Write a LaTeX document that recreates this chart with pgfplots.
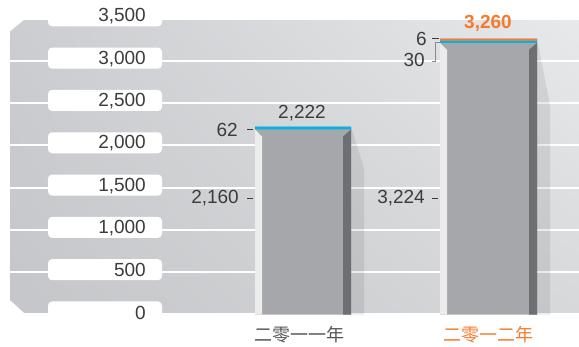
\documentclass[border=0pt]{standalone}
\usepackage{pgfplots}
\pgfplotsset{compat=1.18}
\usetikzlibrary{shadings}
\usepackage{fontspec}
\setmainfont{Liberation Sans}
\newfontfamily\cjk{Noto Sans CJK SC}

\definecolor{panelUL}{HTML}{CBCDD0}
\definecolor{panelUR}{HTML}{E8E9EB}
\definecolor{panelLL}{HTML}{C4C6C9}
\definecolor{panelLR}{HTML}{D6D8DA}
\definecolor{barface}{HTML}{A6A7AB}
\definecolor{barlight}{HTML}{ECECEC}
\definecolor{bardark}{HTML}{6E6F72}
\definecolor{topcyan}{HTML}{00B4E6}
\definecolor{toporange}{HTML}{F47B2B}
\definecolor{numtext}{HTML}{3C3C3C}
\definecolor{cattext}{HTML}{555555}
\definecolor{bracket}{HTML}{8A8A8A}

\begin{document}
\begin{tikzpicture}
\begin{axis}[
  at={(0,0)}, anchor=south west,
  scale only axis, width=579pt, height=346pt,
  xmin=0, xmax=579, ymin=-372, ymax=3717.5,
  clip=false, axis on top,
  axis line style={draw=none},
  major tick style={draw=none},
  xtick=\empty,
  ytick={0,500,...,3500},
  yticklabel style={anchor=east, inner sep=0pt, xshift=146pt, yshift=2pt,
    text=numtext, font=\fontsize{19}{22}\selectfont},
  /pgf/number format/1000 sep={,},
  /pgf/number format/assume math mode=true,
]
% grey panel with chamfered left corners
\shade[upper left=panelUL, upper right=panelUR, lower left=panelLL, lower right=panelLR]
  (axis cs:10,171) -- (axis cs:10,3345) -- (axis cs:27,3510) -- (axis cs:579,3510)
  -- (axis cs:579,0) -- (axis cs:26,0) -- cycle;
% white grid bands and label tabs
\pgfplotsinvokeforeach{0,500,1000,1500,2000,2500,3000,3500}{
  \draw[white, line width=2.2pt] (axis cs:10,#1) -- (axis cs:579,#1);
  \fill[white, rounded corners=4pt] (axis cs:48,#1-94) rectangle (axis cs:162,#1+154);
}

% --- 2011 bar (2,160 + 62 = 2,222)
\addplot[draw=none, fill=black, fill opacity=0.08, mark=none]
  coordinates {(351,0) (351,2222) (364,1732) (364,0) (351,0)};
\addplot[draw=none, fill=barface, mark=none]
  coordinates {(255,0) (255,2222) (351,2222) (351,0) (255,0)};
\addplot[draw=none, fill=barlight, mark=none]
  coordinates {(255,0) (255,2187) (262,2104) (262,0) (255,0)};
\addplot[draw=none, fill=bardark, mark=none]
  coordinates {(343,0) (343,2104) (351,2187) (351,0) (343,0)};
\addplot[draw=none, fill=topcyan, mark=none]
  coordinates {(255,2187) (255,2222) (351,2222) (351,2187) (255,2187)};

% --- 2012 bar (3,224 + 30 + 6 = 3,260)
\addplot[draw=none, fill=black, fill opacity=0.08, mark=none]
  coordinates {(537,0) (537,3260) (550,2476) (550,0) (537,0)};
\addplot[draw=none, fill=barface, mark=none]
  coordinates {(440,0) (440,3260) (537,3260) (537,0) (440,0)};
\addplot[draw=none, fill=barlight, mark=none]
  coordinates {(440,0) (440,3212) (447,3129) (447,0) (440,0)};
\addplot[draw=none, fill=bardark, mark=none]
  coordinates {(529,0) (529,3129) (537,3212) (537,0) (529,0)};
\addplot[draw=none, fill=topcyan, mark=none]
  coordinates {(440,3212) (440,3236) (537,3236) (537,3212) (440,3212)};
\addplot[draw=none, fill=toporange, mark=none]
  coordinates {(440,3236) (440,3260) (537,3260) (537,3236) (440,3236)};

% value labels
\node[text=numtext, font=\fontsize{19}{22}\selectfont] at (axis cs:302,2382) {2,222};
\node[text=toporange, font=\fontsize{19}{22}\selectfont\bfseries] at (axis cs:488,3442) {3,260};

\node[anchor=east, inner sep=0pt, text=numtext, font=\fontsize{19}{22}\selectfont] at (axis cs:238,2187) {62};
\draw[numtext, line width=0.8pt] (axis cs:247,2187) -- (axis cs:253,2187);
\node[anchor=east, inner sep=0pt, text=numtext, font=\fontsize{19}{22}\selectfont] at (axis cs:239,1377) {2,160};
\draw[numtext, line width=0.8pt] (axis cs:247,1377) -- (axis cs:253,1377);

\node[anchor=east, inner sep=0pt, text=numtext, font=\fontsize{19}{22}\selectfont] at (axis cs:427,3262) {6};
\draw[numtext, line width=0.8pt] (axis cs:432,3265) -- (axis cs:439,3265);
\node[anchor=east, inner sep=0pt, text=numtext, font=\fontsize{19}{22}\selectfont] at (axis cs:425,3008) {30};
\draw[bracket, line width=0.8pt] (axis cs:432,2996) -- (axis cs:435,2996) -- (axis cs:435,3221) -- (axis cs:440,3221);
\node[anchor=east, inner sep=0pt, text=numtext, font=\fontsize{19}{22}\selectfont] at (axis cs:425,1377) {3,224};
\draw[numtext, line width=0.8pt] (axis cs:432,1377) -- (axis cs:438,1377);

% category labels
\node[text=cattext, font=\cjk\fontsize{18}{20}\selectfont] at (axis cs:299,-242) {二零一一年};
\node[text=toporange, font=\cjk\fontsize{18}{20}\selectfont] at (axis cs:488,-242) {二零一二年};
\end{axis}
\pgfresetboundingbox
\useasboundingbox (0,0) rectangle (579pt,346pt);
\end{tikzpicture}
\end{document}
